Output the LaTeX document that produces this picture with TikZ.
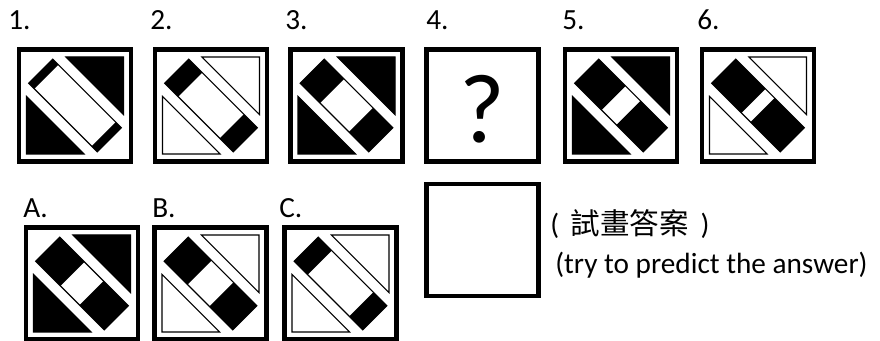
\documentclass[tikz,border=0pt]{standalone}
\usepackage{fontspec}
\setmainfont{Carlito}
\newfontfamily\cjk{Noto Sans CJK TC}
\begin{document}
\begin{tikzpicture}[
    x=0.025cm,
    y=0.025cm,
    font=\fontsize{20.8}{25}\selectfont,
    marco/.style={
        draw,
        line width=3.4pt,
        minimum size=2.8cm,
        inner sep=0pt
    },
    etiqueta/.style={anchor=base west, inner sep=0pt},
    borde/.style={line width=0.8pt},
    pics/casilla/.style 2 args={
        code={
            \filldraw[borde, fill=#1] (-9.1,48.5) -- (48.5,48.5) -- (48.5,-9.1) -- cycle;
            \filldraw[borde, fill=#1] (9.1,-48.5) -- (-48.5,-48.5) -- (-48.5,9.1) -- cycle;
            \begin{scope}[rotate=-45]
                \fill (-48.5,-17) rectangle ++(#2,34);
                \fill (48.5,-17) rectangle ++(-#2,34);
                \draw[borde] (-48.5,-17) rectangle (48.5,17);
            \end{scope}
        }
    }
]
    \path[use as bounding box, fill=white] (0,0) rectangle (880,341);

    % fila de arriba
    \node[etiqueta] (num1) at (8,311) {1.};
    \node[etiqueta] (num2) at (150,311) {2.};
    \node[etiqueta] (num3) at (285,311) {3.};
    \node[etiqueta] (num4) at (426,311) {4.};
    \node[etiqueta] (num5) at (562,311) {5.};
    \node[etiqueta] (num6) at (697,311) {6.};

    \node[marco] (marco1) at (75,235.5) {};
    \node[marco] (marco2) at (211,235.5) {};
    \node[marco] (marco3) at (346.5,235.5) {};
    \node[marco] (marco4) at (482.5,235.5) {};
    \node[marco] (marco5) at (621,235.5) {};
    \node[marco] (marco6) at (758,235.5) {};

    \pic at (marco1.center) {casilla={black}{8}};
    \pic at (marco2.center) {casilla={white}{19}};
    \pic at (marco3.center) {casilla={black}{28}};
    \pic at (marco5.center) {casilla={black}{38}};
    \pic at (marco6.center) {casilla={white}{42}};
    \node[font=\fontsize{70}{72}\selectfont, inner sep=0pt] (pregunta)
        at ([yshift=-0.1cm]marco4.center) {?};

    % opciones
    \node[etiqueta] (letraA) at (23,123) {A.};
    \node[etiqueta] (letraB) at (152,123) {B.};
    \node[etiqueta] (letraC) at (279,123) {C.};

    \node[marco] (marcoA) at (82,57.5) {};
    \node[marco] (marcoB) at (210.5,57.5) {};
    \node[marco] (marcoC) at (340.5,57.5) {};

    \pic at (marcoA.center) {casilla={black}{35}};
    \pic at (marcoB.center) {casilla={white}{33}};
    \pic at (marcoC.center) {casilla={white}{19}};

    % respuesta
    \node[marco] (respuesta) at (482.5,101) {};
    \node[etiqueta] (textochino) at (550,106)
        {(\hspace{0.4em}{\cjk\fontsize{21}{25}\selectfont 試畫答案}\hspace{0.4em})};
    \node[etiqueta] (textoingles) at (555,67) {(try to predict the answer)};
\end{tikzpicture}
\end{document}
